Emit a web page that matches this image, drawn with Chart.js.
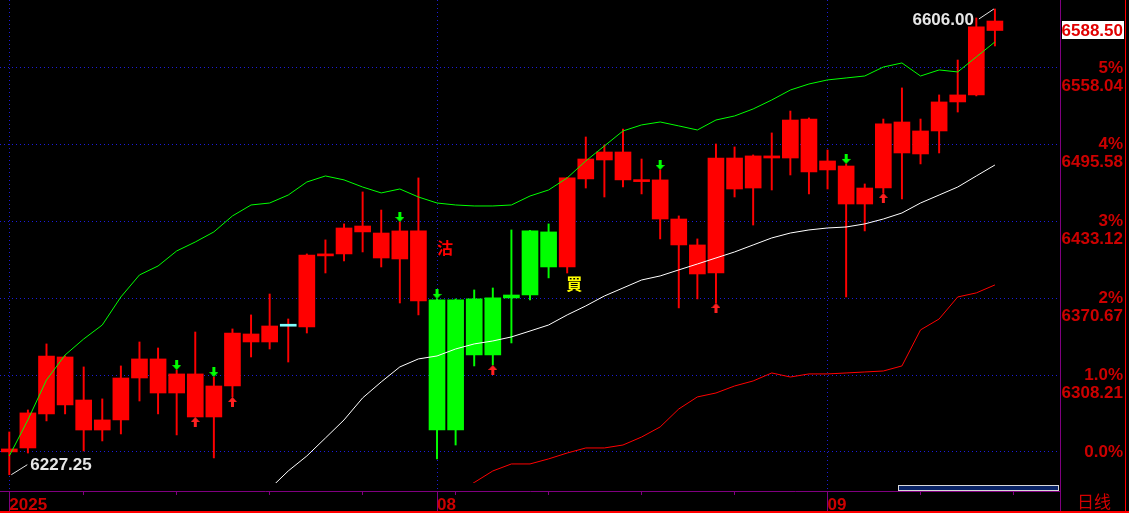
<!DOCTYPE html>
<html>
<head>
<meta charset="utf-8">
<script src="https://cdn.jsdelivr.net/npm/chart.js@4"></script>
<style>
  html, body { margin: 0; padding: 0; background: #000; overflow: hidden; }
  canvas { display: block; }
</style>
</head>
<body>
<canvas id="kline" width="1129" height="513"></canvas>
<script>
// daily candles
const opens  = [6248.2, 6249.0, 6276.7, 6323.0, 6288.0, 6263.6, 6271.8, 6305.9, 6321.4, 6309.2,
                6309.2, 6274.2, 6299.4, 6341.7, 6335.2, 6348.0, 6347.4, 6405.2, 6406.8, 6424.7,
                6423.8, 6402.7, 6425.5, 6369.4, 6263.6, 6370.2, 6324.6, 6371.0, 6373.4, 6424.7,
                6396.2, 6467.8, 6483.2, 6489.7, 6467.0, 6467.0, 6435.2, 6414.1, 6391.3, 6484.8,
                6460.4, 6484.8, 6484.8, 6516.5, 6475.1, 6478.3, 6460.4, 6460.4, 6514.1, 6488.1,
                6506.8, 6530.4, 6536.1, 6596.2];
const closes = [6245.8, 6277.5, 6323.8, 6284.0, 6263.6, 6271.8, 6305.9, 6321.4, 6293.7, 6293.7,
                6274.2, 6299.4, 6342.5, 6335.2, 6348.2, 6348.0, 6405.9, 6406.8, 6427.9, 6429.5,
                6403.5, 6425.5, 6368.5, 6263.6, 6369.4, 6324.6, 6371.0, 6373.4, 6425.5, 6396.2,
                6468.6, 6484.0, 6489.7, 6467.0, 6465.6, 6435.2, 6414.1, 6390.5, 6484.8, 6459.6,
                6486.5, 6486.5, 6515.7, 6473.5, 6482.4, 6447.4, 6447.4, 6512.5, 6488.9, 6506.8,
                6530.4, 6536.1, 6591.4, 6588.5];
const highs  = [6262.0, 6279.9, 6333.6, 6323.8, 6314.9, 6288.9, 6315.7, 6335.2, 6330.3, 6312.4,
                6343.3, 6306.7, 6345.8, 6357.2, 6374.2, 6353.9, 6406.8, 6418.2, 6431.2, 6457.2,
                6442.5, 6432.8, 6468.6, 6370.2, 6370.2, 6377.5, 6379.1, 6426.3, 6425.9, 6431.2,
                6469.0, 6501.9, 6495.4, 6508.4, 6484.0, 6475.1, 6437.7, 6419.0, 6496.2, 6493.8,
                6487.3, 6505.2, 6523.0, 6517.4, 6491.3, 6480.0, 6463.7, 6516.5, 6541.8, 6516.5,
                6536.1, 6564.5, 6598.7, 6606.0];
const lows   = [6227.25, 6244.9, 6271.0, 6276.7, 6246.6, 6254.7, 6260.4, 6287.2, 6276.7, 6259.6,
                6274.2, 6240.9, 6290.5, 6323.0, 6329.5, 6318.9, 6342.5, 6391.3, 6401.1, 6408.4,
                6396.2, 6366.9, 6357.2, 6240.1, 6251.4, 6315.7, 6316.5, 6334.4, 6369.4, 6387.3,
                6391.3, 6460.4, 6453.1, 6461.2, 6455.6, 6419.0, 6362.9, 6370.2, 6366.9, 6453.1,
                6430.3, 6458.8, 6471.0, 6455.6, 6459.6, 6371.8, 6425.5, 6456.4, 6451.5, 6480.0,
                6488.9, 6522.2, 6535.3, 6575.9];

// band lines (upper / middle / lower)
const upper = [6242.5, 6271.8, 6304.3, 6324.6, 6337.6, 6349.0, 6371.8, 6389.7, 6397.0, 6409.2,
               6416.5, 6424.7, 6437.7, 6446.6, 6448.2, 6454.7, 6465.3, 6470.2, 6467.0, 6461.2,
               6456.4, 6459.6, 6453.1, 6448.2, 6446.6, 6445.8, 6445.8, 6446.6, 6453.9, 6458.8,
               6468.6, 6482.4, 6494.6, 6506.8, 6511.7, 6514.1, 6510.9, 6507.6, 6515.7, 6519.0,
               6524.7, 6532.0, 6540.1, 6545.0, 6548.3, 6549.9, 6551.5, 6558.8, 6562.1, 6551.5,
               6556.4, 6554.8, 6567.0, 6579.2];
const middle = Array(14).fill(null).concat([
               6215.7, 6230.3, 6242.5, 6257.1, 6271.8, 6289.7, 6302.7, 6314.9, 6321.4, 6323.8,
               6329.5, 6333.6, 6336.0, 6339.3, 6344.1, 6349.0, 6357.2, 6364.5, 6372.6, 6379.1,
               6385.6, 6388.9, 6393.8, 6398.6, 6403.5, 6408.4, 6414.1, 6419.8, 6423.8, 6426.3,
               6427.9, 6428.7, 6431.2, 6435.2, 6440.1, 6448.2, 6454.7, 6461.2, 6470.2, 6479.1]);
const lower = Array(24).fill(null).concat([
               6211.6, 6220.9, 6230.3, 6236.0, 6236.0, 6240.1, 6244.9, 6249.0, 6249.0, 6251.4,
               6257.9, 6266.1, 6280.7, 6290.5, 6293.7, 6299.4, 6303.5, 6310.0, 6306.7, 6309.2,
               6309.2, 6310.0, 6310.8, 6311.6, 6315.7, 6345.0, 6353.9, 6371.8, 6375.1, 6381.6]);

// signals
const downArrows = [9, 11, 21, 23, 35, 45];
const upArrows = [10, 12, 26, 38, 47];
const sellAt = 23;   // 沽
const buyAt = 30;    // 買

// axes
const xLabels = ['2025', '', '', '', '', '', '', '', '', '', '', '', '', '', '', '', '', '', '', '',
                 '', '', '', '08', '', '', '', '', '', '', '', '', '', '', '', '', '', '', '', '',
                 '', '', '', '', '09', '', '', '', '', '', '', '', '', '', '', '', ''];
const monthTicks = [0, 23, 44];
const weekTicks = [4, 9, 14, 19, 24, 29, 34, 39, 44, 49, 54];
const tickValues = [6245.75, 6308.21, 6370.67, 6433.12, 6495.58, 6558.04];
const pctLabels = ['0.0%', '1.0%', '2%', '3%', '4%', '5%'];

const RED = '#ff0000';
const GREEN = '#00ff00';
const BLUE = '#1c1cd8';
const PURPLE = '#800080';
const LABEL_RED = '#cc0000';
const FONT = '"Liberation Sans", Arial, sans-serif';

function candleColor(i) {
  return (i >= sellAt && i < buyAt) ? GREEN : RED;
}
function bodyColor(i) {
  if (opens[i] === closes[i]) return '#80ffff';
  return candleColor(i);
}

// little arrow images, tip sits on the point
function makeArrow(color, down) {
  const c = document.createElement('canvas');
  c.width = 9;
  c.height = 20;
  const g = c.getContext('2d');
  g.fillStyle = color;
  g.beginPath();
  if (down) {
    g.fillRect(3, 0, 3, 5);
    g.moveTo(0, 5); g.lineTo(9, 5); g.lineTo(4.5, 10);
  } else {
    g.fillRect(3, 15, 3, 5);
    g.moveTo(0, 15); g.lineTo(9, 15); g.lineTo(4.5, 10);
  }
  g.closePath();
  g.fill();
  return c;
}

const overlay = {
  id: 'overlay',
  afterDatasetsDraw(chart) {
    const {ctx, scales: {x, y}} = chart;
    ctx.save();

    // sell / buy marks
    ctx.textAlign = 'center';
    ctx.textBaseline = 'middle';
    ctx.font = 'bold 16px "Noto Sans CJK TC"';
    ctx.fillStyle = RED;
    ctx.fillText('沽', x.getPixelForValue(sellAt) + 8, y.getPixelForValue(highs[sellAt]) - 51);
    ctx.fillStyle = '#ffff00';
    ctx.fillText('買', x.getPixelForValue(buyAt) + 7, y.getPixelForValue(lows[buyAt]) + 11);

    // highest / lowest price notes
    ctx.font = 'bold 17px ' + FONT;
    ctx.strokeStyle = '#e6e6e6';
    ctx.fillStyle = '#e6e6e6';
    ctx.lineWidth = 1;
    const hiIdx = highs.indexOf(Math.max(...highs));
    const hx = x.getPixelForValue(hiIdx), hy = y.getPixelForValue(highs[hiIdx]);
    ctx.beginPath();
    ctx.moveTo(hx - 16, hy + 10);
    ctx.lineTo(hx - 1, hy);
    ctx.stroke();
    ctx.textAlign = 'right';
    ctx.fillText(highs[hiIdx].toFixed(2), hx - 21, hy + 11);

    const loIdx = lows.indexOf(Math.min(...lows));
    const lx = x.getPixelForValue(loIdx), ly = y.getPixelForValue(lows[loIdx]);
    ctx.beginPath();
    ctx.moveTo(lx + 2, ly);
    ctx.lineTo(lx + 18, ly - 10);
    ctx.stroke();
    ctx.textAlign = 'left';
    ctx.fillText(lows[loIdx].toFixed(2), lx + 21, ly - 9);
    ctx.restore();
  },
  afterDraw(chart) {
    const {ctx, chartArea, scales: {y}} = chart;
    const W = chart.width, H = chart.height;
    ctx.save();
    // frame bits
    ctx.fillStyle = PURPLE;
    ctx.fillRect(Math.round(chartArea.right), chartArea.bottom, 1, H - chartArea.bottom);
    ctx.fillStyle = RED;
    ctx.fillRect(0, H - 2, W, 2);
    ctx.fillRect(W - 4, 0, 1, H);

    // scroll bar
    ctx.fillStyle = '#0a2466';
    ctx.fillRect(898, 486, 161, 5);
    ctx.strokeStyle = '#d8d8d8';
    ctx.strokeRect(898.5, 485.5, 160, 5);

    // last price tag
    const last = closes[closes.length - 1];
    const py = Math.round(y.getPixelForValue(last));
    ctx.fillStyle = '#ffffff';
    ctx.fillRect(chartArea.right + 2, py - 9, 62, 18);
    ctx.fillStyle = '#e00000';
    ctx.font = 'bold 17px ' + FONT;
    ctx.textAlign = 'right';
    ctx.textBaseline = 'middle';
    ctx.fillText(last.toFixed(2), chartArea.right + 63, py + 1);

    // period name
    ctx.fillStyle = '#d40000';
    ctx.font = '17px "Noto Sans CJK SC"';
    ctx.textAlign = 'center';
    ctx.fillText('日线', 1094, 502);
    ctx.restore();
  }
};

const ctx = document.getElementById('kline').getContext('2d');

new Chart(ctx, {
  type: 'bar',
  data: {
    labels: xLabels,
    datasets: [
      {
        type: 'line',
        label: 'upper',
        data: upper,
        borderColor: GREEN,
        borderWidth: 1,
        pointRadius: 0,
        tension: 0,
        order: 0,
        clip: {left: 0, top: 0, right: 0, bottom: -8}
      },
      {
        type: 'line',
        label: 'middle',
        data: middle,
        borderColor: '#ffffff',
        borderWidth: 1,
        pointRadius: 0,
        tension: 0,
        order: 0,
        clip: {left: 0, top: 0, right: 0, bottom: -8}
      },
      {
        type: 'line',
        label: 'lower',
        data: lower,
        borderColor: RED,
        borderWidth: 1,
        pointRadius: 0,
        tension: 0,
        order: 0,
        clip: {left: 0, top: 0, right: 0, bottom: -8}
      },
      {
        type: 'line',
        label: 'sell arrows',
        data: highs.map((h, i) => downArrows.includes(i) ? h : null),
        showLine: false,
        pointStyle: makeArrow(GREEN, true),
        pointRadius: 5,
        order: -1
      },
      {
        type: 'line',
        label: 'buy arrows',
        data: lows.map((l, i) => upArrows.includes(i) ? l : null),
        showLine: false,
        pointStyle: makeArrow('#ff2020', false),
        pointRadius: 5,
        order: -1
      },
      {
        label: 'body',
        data: opens.map((o, i) => [o, closes[i]]),
        backgroundColor: opens.map((o, i) => bodyColor(i)),
        barThickness: 16,
        minBarLength: 2,
        grouped: false,
        order: 1
      },
      {
        label: 'wick',
        data: lows.map((l, i) => [l, highs[i]]),
        backgroundColor: lows.map((l, i) => candleColor(i)),
        barThickness: 1.3,
        grouped: false,
        order: 2
      }
    ]
  },
  options: {
    responsive: false,
    animation: false,
    devicePixelRatio: 1,
    layout: { autoPadding: false, padding: { left: 0, top: 0, right: 6, bottom: 0 } },
    plugins: {
      legend: { display: false },
      tooltip: { enabled: false }
    },
    scales: {
      x: {
        type: 'category',
        offset: true,
        weight: 1,
        grid: {
          offset: false,
          color: c => monthTicks.includes(c.index) ? BLUE : 'transparent',
          tickColor: c => monthTicks.includes(c.index) ? PURPLE : 'transparent',
          tickLength: 20,
          tickBorderDash: []
        },
        border: { display: true, color: PURPLE, width: 1, dash: [1, 3] },
        ticks: {
          autoSkip: false,
          maxRotation: 0,
          align: 'start',
          padding: -16,
          color: LABEL_RED,
          font: { family: FONT, size: 17, weight: 'bold' }
        },
        afterFit: s => { s.height = 22; s.paddingLeft = 0; s.paddingRight = 0; }
      },
      x2: {
        type: 'category',
        labels: xLabels,
        position: 'bottom',
        offset: true,
        weight: 0,
        ticks: { display: false },
        grid: {
          offset: false,
          drawOnChartArea: false,
          color: 'transparent',
          tickLength: 4,
          tickColor: c => weekTicks.includes(c.index) ? PURPLE : 'transparent'
        },
        border: { display: false },
        afterFit: s => { s.height = 0; s.paddingLeft = 0; s.paddingRight = 0; }
      },
      y: {
        type: 'linear',
        position: 'right',
        min: 6214.0,
        max: 6613.3,
        afterBuildTicks: s => { s.ticks = tickValues.map(v => ({ value: v })); },
        grid: { color: BLUE, lineWidth: 1, drawTicks: false },
        border: { display: true, color: PURPLE, width: 1, dash: [1, 3] },
        ticks: {
          autoSkip: false,
          crossAlign: 'far',
          color: LABEL_RED,
          font: { family: FONT, size: 17, weight: 'bold', lineHeight: '18px' },
          callback: (v, i) => ['', pctLabels[i], i ? tickValues[i].toFixed(2) : '']
        },
        afterFit: s => { s.width = 63; s.paddingTop = 0; s.paddingBottom = 0; }
      }
    }
  },
  plugins: [overlay]
});
</script>
</body>
</html>
